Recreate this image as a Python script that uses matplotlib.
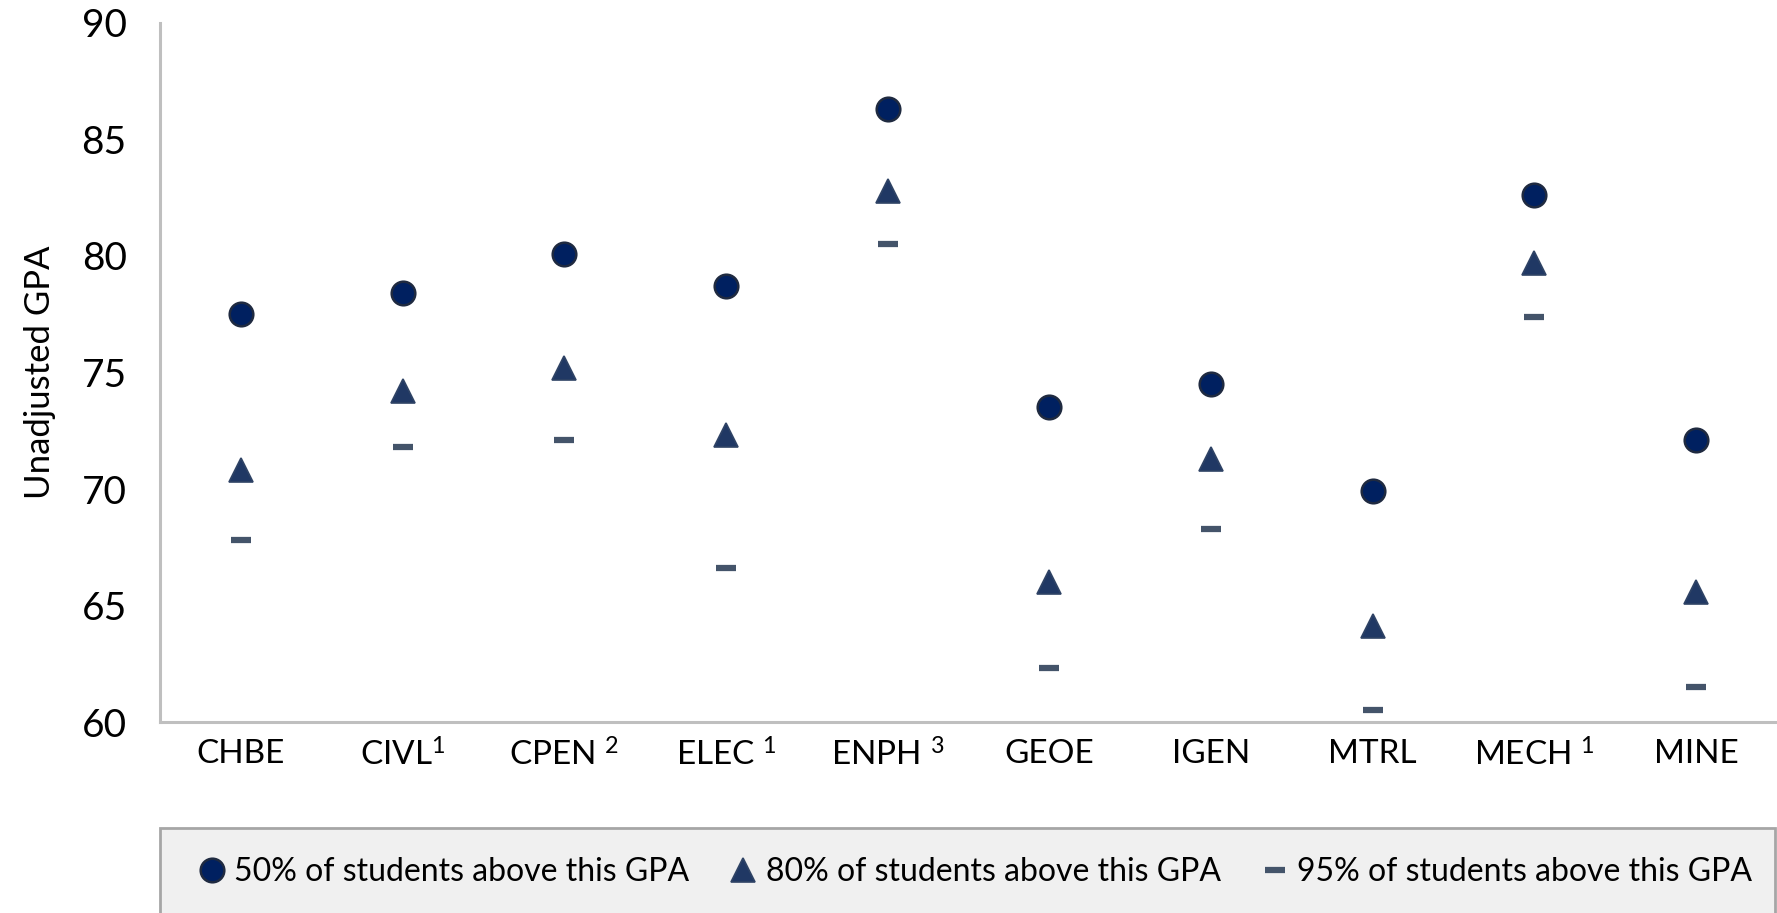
import matplotlib.pyplot as plt
from matplotlib.lines import Line2D
from matplotlib.patches import Rectangle

programs = ['CHBE', 'CIVL$^{1}$', 'CPEN $^{2}$', 'ELEC $^{1}$', 'ENPH $^{3}$',
            'GEOE', 'IGEN', 'MTRL', 'MECH $^{1}$', 'MINE']
gpa_50 = [77.5, 78.4, 80.1, 78.7, 86.3, 73.5, 74.5, 69.9, 82.6, 72.1]
gpa_80 = [70.8, 74.2, 75.2, 72.3, 82.8, 66.0, 71.3, 64.1, 79.7, 65.6]
gpa_95 = [67.8, 71.8, 72.1, 66.6, 80.5, 62.3, 68.3, 60.5, 77.4, 61.5]

plt.rcParams['font.family'] = ['Lato', 'DejaVu Sans']
plt.rcParams['mathtext.fontset'] = 'custom'
plt.rcParams['mathtext.rm'] = 'Lato'
plt.rcParams['mathtext.it'] = 'Lato'
plt.rcParams['mathtext.default'] = 'regular'

fig = plt.figure(figsize=(17.77, 9.13), dpi=100)
ax = fig.add_axes([160 / 1777, 191 / 913, 1 - 160 / 1777, (722 - 23) / 913])

x = range(len(programs))
ax.plot(x, gpa_50, 'o', ms=17, mfc='#002060', mec='#1f2a40', mew=1.8, ls='none')
ax.plot(x, gpa_80, '^', ms=17, mfc='#203864', mec='#2f4365', mew=1.2, ls='none')
ax.plot(x, gpa_95, '_', ms=14, mec='#44546a', mew=4.5, ls='none')

ax.set_xlim(-0.5, 9.5)
ax.set_ylim(60, 90)
ax.set_yticks(range(60, 91, 5))
ax.set_xticks(list(x))
ax.set_xticklabels(programs)
ax.tick_params(axis='y', length=0, pad=24, labelsize=28)
ax.tick_params(axis='x', length=0, pad=12, labelsize=24)
ax.set_ylabel('Unadjusted GPA', fontsize=25, labelpad=18)

for side in ['top', 'right']:
    ax.spines[side].set_visible(False)
for side in ['left', 'bottom']:
    ax.spines[side].set_color('#bfbfbf')
    ax.spines[side].set_linewidth(2.2)

# legend box
fig.patches.append(Rectangle((160 / 1777, -0.02), (1775 - 160) / 1777, 0.02 + 1 - 828 / 913,
                             transform=fig.transFigure, facecolor='#f0f0f0',
                             edgecolor='#a6a6a6', linewidth=2))

handles = [
    Line2D([], [], marker='o', ms=17, mfc='#002060', mec='#1f2a40', mew=1.8, ls='none'),
    Line2D([], [], marker='^', ms=17, mfc='#203864', mec='#2f4365', mew=1.2, ls='none'),
    Line2D([], [], marker='_', ms=14, mec='#44546a', mew=4.5, ls='none'),
]
labels = ['50% of students above this GPA', '80% of students above this GPA',
          '95% of students above this GPA']
fig.legend(handles, labels, loc='center', bbox_to_anchor=(0.549, 1 - 872 / 913),
           ncol=3, frameon=False, fontsize=23, handlelength=0.8, handletextpad=0.3,
           columnspacing=1.3)

fig.savefig('out.png', dpi=100)
